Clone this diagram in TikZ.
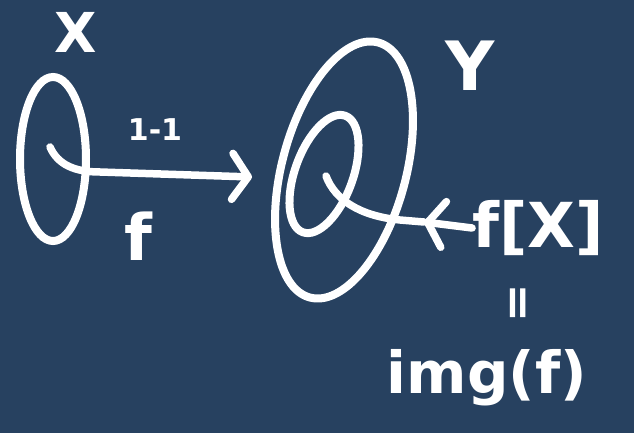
\documentclass[tikz,border=0pt]{standalone}
\usepackage{fontspec}
\setmainfont{DejaVu Sans}
\usepackage{tikz}
\usetikzlibrary{shapes.geometric, arrows.meta, positioning, calc}
\definecolor{boardbg}{RGB}{39, 65, 96}
\definecolor{chalk}{RGB}{255, 255, 255}
\tikzset{
  font=\bfseries,
  setblob/.style={
    ellipse, draw=chalk, line width=8pt, inner sep=0pt
  },
  chalktext/.style={
    text=chalk, inner sep=0pt, font=\bfseries\fontsize{#1}{#1}\selectfont
  },
  mapline/.style={
    draw=chalk, line width=7.5pt, line cap=round, line join=round,
    -{Straight Barb[length=16pt, width=46pt, line width=7.5pt, round]}
  },
  plainline/.style={
    draw=chalk, line width=7.5pt, line cap=round, line join=round
  }
}

\begin{document}
\begin{tikzpicture}[x=1pt, y=-1pt]

  % board
  \fill[boardbg] (0,0) rectangle (634,433);
  \useasboundingbox (0,0) rectangle (634,433);

  % Set X
  \node[setblob, minimum width=66pt, minimum height=164pt] (setX) at (53,159) {};
  \node[chalktext=55] (lblX) at (76,32) {X};

  % Set Y and the image inside it
  \node[setblob, minimum width=124pt, minimum height=264pt, rotate=-15] (setY) at (344,170) {};
  \node[setblob, minimum width=58pt, minimum height=124pt, rotate=-20] (imgset) at (324,174) {};
  \node[chalktext=68] (lblY) at (470,66) {Y};

  % the map f
  \coordinate (fstart) at (50,147);
  \coordinate (fend) at (252,177);
  \draw[mapline] (fstart) .. controls +(8,18) and +(-25,0) .. (100,172) -- (fend);
  \node[chalktext=30] (lblinj) at (155,130) {1-1};
  \node[chalktext=64] (lblf) at (138,236) {f};

  % f[X] pointing at the image
  \node[chalktext=62] (lblfX) at (538,228) {f[X]};
  \coordinate (fXtip) at (424,222);
  \coordinate (fXend) at (326,176);
  \draw[mapline] (lblfX.west) -- (fXtip);
  \draw[plainline] (fXtip) -- (400,220) .. controls (360,216) and (335,200) .. (fXend);

  % = img(f)
  \node[chalktext=46, rotate=90] (eqsign) at (521,303) {=};
  \node[chalktext=58] (lblimg) at (487,378) {img(f)};

\end{tikzpicture}
\end{document}
